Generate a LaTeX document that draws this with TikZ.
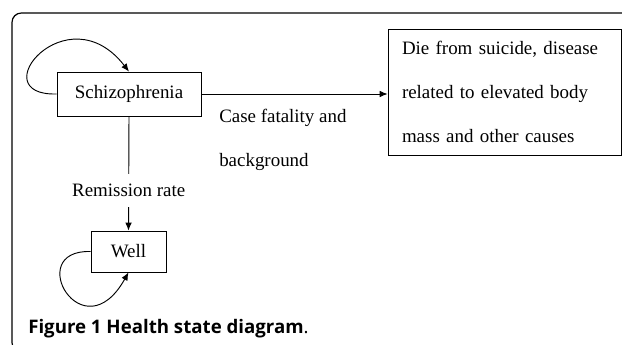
\documentclass[tikz,border=0pt]{standalone}
\usepackage{fontspec}
\setmainfont{Liberation Serif}
\newfontfamily\captionfont{Open Sans}
\usetikzlibrary{arrows.meta}

\begin{document}
\begin{tikzpicture}[
    x=0.75pt, y=-0.75pt,
    state/.style={draw, line width=0.6pt, inner sep=0pt, font=\fontsize{14.2}{17}\selectfont},
    flow/.style={line width=0.7pt, -{Latex[length=6pt,width=5pt]}},
    rate/.style={font=\fontsize{14.2}{33}\selectfont, inner sep=0pt, align=left}
]
\useasboundingbox (0,0) rectangle (622,345);
\clip (0,0) rectangle (622,345);

\draw[line width=0.9pt, rounded corners=7pt] (12,13) rectangle (700,352);

\node[state, minimum width=108pt, minimum height=33pt] (schizo) at (129,94) {Schizophrenia};
\node[state, minimum width=56.25pt, minimum height=30.75pt] (well) at (128.5,251.5) {Well};
\node[state, minimum width=174.75pt, minimum height=94.5pt, text width=153.75pt, inner xsep=10.5pt, align=left, font=\fontsize{14.2}{33}\selectfont] (die) at (504.5,92) {Die from suicide, disease\\related to elevated body\\mass and other causes};

\node[rate, anchor=west] (fatal) at (219,140) {Case fatality and\\background};

\draw[flow] (schizo.east) -- (schizo.east -| die.west);
\draw[flow] (schizo.south) -- node[rate, pos=0.65, fill=white, minimum height=24.75pt, inner xsep=2pt] (remission) {Remission rate} (well.north);
\draw[flow] (schizo.west) .. controls +(-76,2) and +(-62,-80) .. (schizo.north);
\draw[flow] (well.west) .. controls +(-68,-2) and +(-46,82) .. (well.south);

\node[anchor=base west, inner sep=0pt, font=\captionfont\fontsize{14}{16}\selectfont] (caption) at (28,334) {\textbf{Figure 1 Health state diagram}.};

\end{tikzpicture}
\end{document}
